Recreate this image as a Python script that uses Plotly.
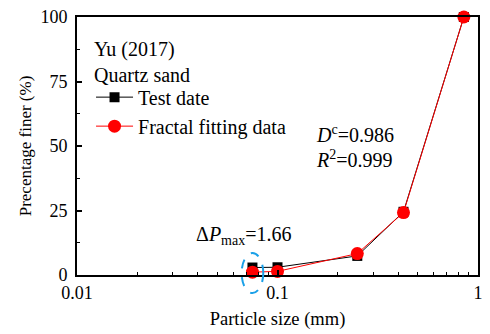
import math
import plotly.graph_objects as go

# Particle-size distribution of quartz sand (Yu, 2017)
particle_size_mm = [0.075, 0.1, 0.25, 0.425, 0.85]
test_finer_pct = [2.9, 3.0, 7.4, 24.5, 100.0]
fractal_finer_pct = [1.1, 1.4, 8.3, 24.2, 100.0]

x_tick_vals = [0.01, 0.1, 1]
x_tick_text = ["0.01", "0.1", "1"]
y_tick_vals = [0, 25, 50, 75, 100]

FONT = "Liberation Serif"

fig = go.Figure()
fig.add_trace(go.Scatter(
    x=particle_size_mm, y=test_finer_pct, name="Test date",
    mode="lines+markers",
    line=dict(color="black", width=1),
    marker=dict(symbol="square", size=10, color="black"),
    cliponaxis=False,
))
fig.add_trace(go.Scatter(
    x=particle_size_mm, y=fractal_finer_pct, name="Fractal fitting data",
    mode="lines+markers",
    line=dict(color="#ff0000", width=1),
    marker=dict(symbol="circle", size=13, color="#ff0000"),
    cliponaxis=False,
))

axis_common = dict(
    showline=True, linecolor="black", linewidth=2, mirror=True,
    ticks="inside", tickcolor="black", tickwidth=1.5, ticklen=5,
    showgrid=False, zeroline=False,
    tickfont=dict(family=FONT, size=18, color="black"),
)

fig.update_xaxes(
    type="log", range=[-2, 0],
    tickvals=x_tick_vals, ticktext=x_tick_text,
    minor=dict(ticks="inside", ticklen=3, tickwidth=1.2, tickcolor="black",
               tickvals=[a * 10 ** e for e in (-2, -1) for a in range(2, 10)]),
    title_text="Particle size (mm)", title_standoff=10,
    title_font=dict(family=FONT, size=18.5, color="black"),
    **axis_common,
)
fig.update_yaxes(
    range=[0, 100], tickvals=y_tick_vals,
    minor=dict(ticks="inside", ticklen=3, tickwidth=1.2, tickcolor="black",
               dtick=12.5),
    ticklabelstandoff=4,
    title_text="Precentage finer (%)", title_standoff=4,
    title_font=dict(family=FONT, size=17, color="black"),
    **axis_common,
)

# dashed ellipse marking the largest deviation
x0 = (math.log10(0.075) + 2) / 2
fig.add_shape(
    type="circle", xref="x domain", yref="y domain",
    x0=x0 - 0.027, x1=x0 + 0.027, y0=-0.07, y1=0.085,
    line=dict(color="#1aa0e8", width=2, dash="dash"),
)

text_font = dict(family=FONT, size=20, color="black")
fig.add_annotation(x=0.037, y=0.873, xref="paper", yref="paper", xanchor="left",
                   yanchor="middle", text="Yu (2017)", showarrow=False, font=text_font)
fig.add_annotation(x=0.037, y=0.777, xref="paper", yref="paper", xanchor="left",
                   yanchor="middle", text="Quartz sand", showarrow=False, font=text_font)
fig.add_annotation(x=0.59, y=0.546, xref="paper", yref="paper", xanchor="left",
                   yanchor="middle", text="<i>D</i><sup>c</sup>=0.986",
                   showarrow=False, font=text_font)
fig.add_annotation(x=0.59, y=0.45, xref="paper", yref="paper", xanchor="left",
                   yanchor="middle", text="<i>R</i><sup>2</sup>=0.999",
                   showarrow=False, font=text_font)
fig.add_annotation(x=0.292, y=0.154, xref="paper", yref="paper", xanchor="left",
                   yanchor="middle", text="Δ<i>P</i><sub>max</sub>=1.66",
                   showarrow=False, font=text_font)

fig.update_layout(
    width=490, height=334,
    margin=dict(l=77, r=7, t=15, b=59),
    paper_bgcolor="white", plot_bgcolor="white",
    showlegend=True,
    legend=dict(x=0.035, y=0.765, xanchor="left", yanchor="top",
                bgcolor="rgba(0,0,0,0)", font=text_font,
                tracegroupgap=0, itemwidth=37),
)

fig.write_html("out.html")
